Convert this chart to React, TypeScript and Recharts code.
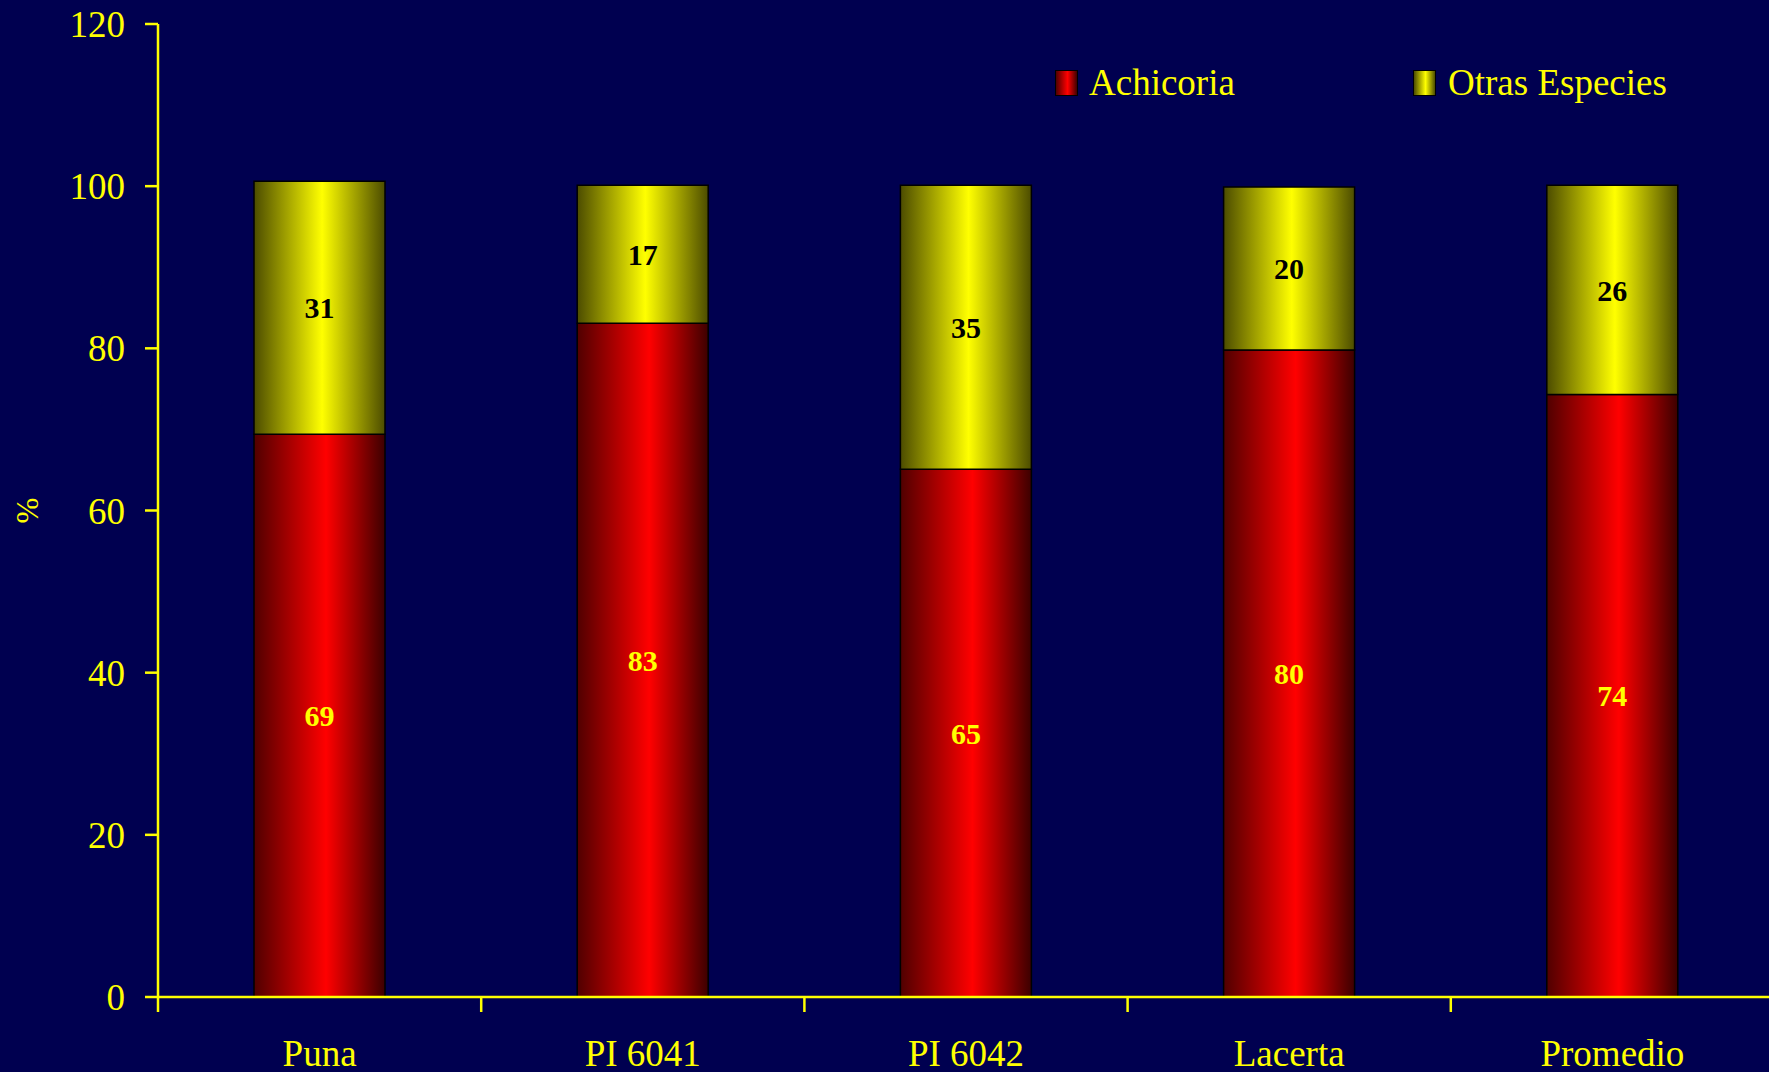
import React from 'react';
import { BarChart, Bar, XAxis, YAxis, LabelList, Legend } from 'recharts';

const categories = ['Puna', 'PI 6041', 'PI 6042', 'Lacerta', 'Promedio'];
const achicoria = [69.4, 83.1, 65.1, 79.8, 74.3];
const otras = [31.2, 17.0, 35.0, 20.1, 25.8];
const yTicks = [0, 20, 40, 60, 80, 100, 120];

const data = categories.map((c, i) => ({ name: c, achicoria: achicoria[i], otras: otras[i] }));

const BG = '#000050';
const YEL = '#ffff00';
const FONT = '"Liberation Serif", "Times New Roman", serif';
const TICK_MARGIN = 43;
const BOUNDARY_TICK = 15;

const fmt = (v: any) => String(Math.round(Number(v)));

const LegendContent = () => (
  <div style={{ display: 'flex', alignItems: 'center', fontFamily: FONT, fontSize: 37, lineHeight: '37px', color: YEL }}>
    <div style={{ display: 'flex', alignItems: 'center', width: 358 }}>
      <div style={{ width: 21, height: 24, border: '1.5px solid #000', background: 'linear-gradient(to right, #500000, #ff0000 55%, #400000)', marginRight: 11 }} />
      <span>Achicoria</span>
    </div>
    <div style={{ display: 'flex', alignItems: 'center' }}>
      <div style={{ width: 21, height: 24, border: '1.5px solid #000', background: 'linear-gradient(to right, #4c4c00, #ffff00 55%, #4c4c00)', marginRight: 12 }} />
      <span style={{ whiteSpace: 'nowrap' }}>Otras Especies</span>
    </div>
  </div>
);

const PercentLabel = (props: any) => {
  const vb = props.viewBox || {};
  const x = (vb.x ?? 0) + 27;
  const y = (vb.y ?? 0) + (vb.height ?? 0) / 2;
  return (
    <text x={x} y={y} transform={`rotate(-90, ${x}, ${y})`} textAnchor="middle" dominantBaseline="central" fill={YEL} fontSize={31} fontFamily={FONT}>
      %
    </text>
  );
};

const CategoryTick = (props: any) => {
  const { x, y, payload, width, visibleTicksCount } = props;
  const half = payload && typeof payload.offset === 'number' && payload.offset > 0
    ? payload.offset
    : (width && visibleTicksCount ? width / visibleTicksCount / 2 : 0);
  const axisY = y - TICK_MARGIN;
  const bx = x - half;
  return (
    <g>
      <line x1={bx} y1={axisY} x2={bx} y2={axisY + BOUNDARY_TICK} stroke={YEL} strokeWidth={2.5} />
      <text x={x} y={y} dy="0.71em" textAnchor="middle" fill={YEL} fontSize={37} fontFamily={FONT}>
        {payload.value}
      </text>
    </g>
  );
};

export default function App() {
  return (
    <div style={{ position: 'absolute', left: 0, top: 0, width: 1769, height: 1072, overflow: 'hidden', background: BG }}>
      <BarChart width={1780} height={1072} data={data} margin={{ top: 24, right: 6, bottom: 25, left: 0 }} barSize={131}>
        <defs>
          <linearGradient id="gradRed" x1="0" y1="0" x2="1" y2="0">
            <stop offset="0%" stopColor="#500000" />
            <stop offset="55%" stopColor="#ff0000" />
            <stop offset="100%" stopColor="#3c0000" />
          </linearGradient>
          <linearGradient id="gradYel" x1="0" y1="0" x2="1" y2="0">
            <stop offset="0%" stopColor="#4c4c00" />
            <stop offset="52%" stopColor="#ffff00" />
            <stop offset="100%" stopColor="#4c4c00" />
          </linearGradient>
        </defs>
        <XAxis
          dataKey="name"
          height={50}
          axisLine={{ stroke: YEL, strokeWidth: 2.5 }}
          tickLine={false}
          tickSize={0}
          tickMargin={TICK_MARGIN}
          interval={0}
          tick={CategoryTick}
        />
        <YAxis
          width={158}
          domain={[0, 120]}
          ticks={yTicks}
          axisLine={{ stroke: YEL, strokeWidth: 2.5 }}
          tickLine={{ stroke: YEL, strokeWidth: 2.5 }}
          tickSize={13}
          tickMargin={20}
          tick={{ fill: YEL, fontSize: 37, fontFamily: FONT }}
          label={{ content: PercentLabel }}
        />
        <Legend verticalAlign="middle" align="center" layout="horizontal" content={LegendContent} wrapperStyle={{ top: 64, left: 1055, width: 'auto' }} />
        <Bar dataKey="achicoria" name="Achicoria" stackId="a" fill="url(#gradRed)" stroke="#000" strokeWidth={1.5} isAnimationActive={false}>
          <LabelList dataKey="achicoria" position="center" formatter={fmt} fill={YEL} fontSize={30} fontWeight="bold" fontFamily={FONT} />
        </Bar>
        <Bar dataKey="otras" name="Otras Especies" stackId="a" fill="url(#gradYel)" stroke="#000" strokeWidth={1.5} isAnimationActive={false}>
          <LabelList dataKey="otras" position="center" formatter={fmt} fill="#000" fontSize={30} fontWeight="bold" fontFamily={FONT} />
        </Bar>
      </BarChart>
    </div>
  );
}
